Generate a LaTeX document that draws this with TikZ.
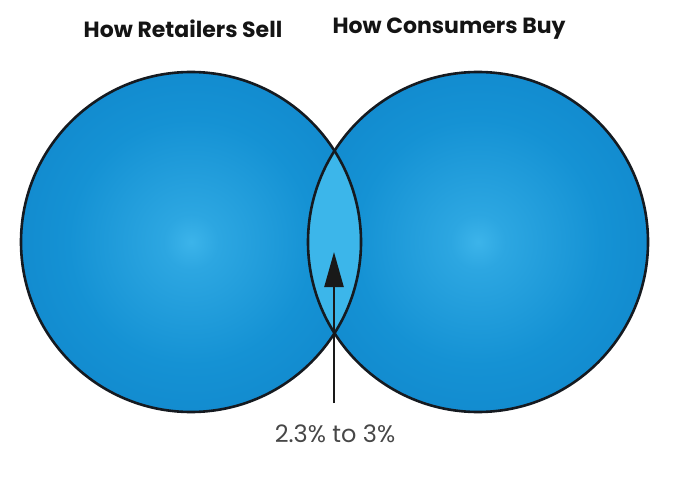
\documentclass[tikz,border=0pt]{standalone}
\usepackage{fontspec}
\setmainfont{Poppins}
\usetikzlibrary{arrows.meta}
\definecolor{cin}{HTML}{3CB4EA}
\definecolor{cmid}{HTML}{1592D4}
\definecolor{cout}{HTML}{0A76BF}
\definecolor{lens}{HTML}{3CB6EA}
\definecolor{rim}{HTML}{151A20}
\definecolor{labelgray}{HTML}{474747}
\pgfdeclareradialshading{ballshade}{\pgfpoint{0bp}{0bp}}{color(0bp)=(cin); color(4bp)=(cin!60!cmid); color(18bp)=(cmid); color(50bp)=(cout); color(100bp)=(cout)}
\tikzset{
  title/.style={font=\fontsize{22}{26}\selectfont\bfseries, text=black!92},
  pct/.style={font=\fontsize{24}{28}\selectfont, text=labelgray},
  rimline/.style={draw=rim, line width=2.6pt},
}
\begin{document}
\begin{tikzpicture}[x=1pt,y=-1pt]
\useasboundingbox (0,0) rectangle (682,478);
\coordinate (cl) at (191,242);
\coordinate (cr) at (478,242);
\shade[shading=ballshade] (cl) circle (170);
\shade[shading=ballshade] (cr) circle (170);
\begin{scope}
  \clip (cl) circle (170);
  \fill[lens] (cr) circle (170);
\end{scope}
\draw[rimline] (cl) circle (170);
\draw[rimline] (cr) circle (170);
\node[title] (t1) at (183,29) {How Retailers Sell};
\node[title] (t2) at (449,29) {How Consumers Buy};
\node[pct] (p) at (335,434) {2.3\% to 3\%};
\coordinate (tail) at (334,403);
\coordinate (tip) at (334,252);
\draw[line width=2.4pt, draw=black!90, -{Triangle[length=35pt,width=19pt]}] (tail) -- (tip);
\end{tikzpicture}
\end{document}
